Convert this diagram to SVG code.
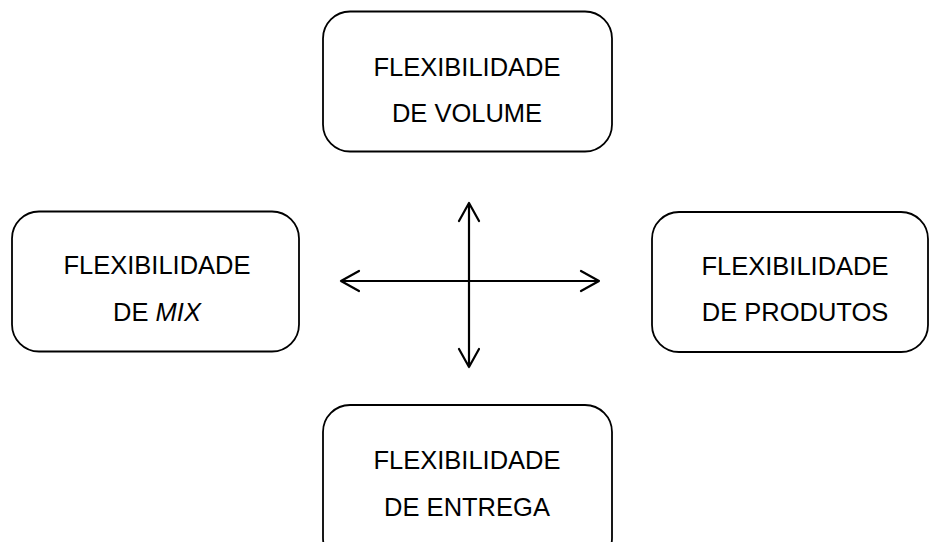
<svg xmlns="http://www.w3.org/2000/svg" width="930" height="542" viewBox="0 0 930 542">
<style>
.box{fill:#fff;stroke:#000;stroke-width:1.8}
.t{font-family:"Liberation Sans",Arial,sans-serif;font-size:25.5px;fill:#000;text-anchor:middle}
.ln{stroke:#000;stroke-width:2.2;fill:none;stroke-linecap:round;stroke-linejoin:round}
</style>
<rect width="930" height="542" fill="#fff"/>
<g id="volume">
<rect class="box" x="323" y="11.5" width="289" height="140" rx="27"/>
<text class="t" x="467" y="76">FLEXIBILIDADE</text>
<text class="t" x="467" y="121.5">DE VOLUME</text>
</g>
<g id="mix">
<rect class="box" x="12" y="211.5" width="287" height="140" rx="27"/>
<text class="t" x="157" y="274">FLEXIBILIDADE</text>
<text class="t" x="157" y="321">DE <tspan font-style="italic">MIX</tspan></text>
</g>
<g id="produtos">
<rect class="box" x="652" y="212" width="276" height="140" rx="27"/>
<text class="t" x="795" y="275">FLEXIBILIDADE</text>
<text class="t" x="795" y="321">DE PRODUTOS</text>
</g>
<g id="entrega">
<rect class="box" x="323" y="405" width="289" height="160" rx="27"/>
<text class="t" x="467" y="469">FLEXIBILIDADE</text>
<text class="t" x="467" y="516">DE ENTREGA</text>
</g>
<g id="connectors">
<path class="ln" d="M341 281 H599 M359 271 L341 281 L359 291 M581 271 L599 281 L581 291"/>
<path class="ln" d="M469 203 V367 M459 221 L469 203 L479 221 M459 349 L469 367 L479 349"/>
</g>
</svg>
